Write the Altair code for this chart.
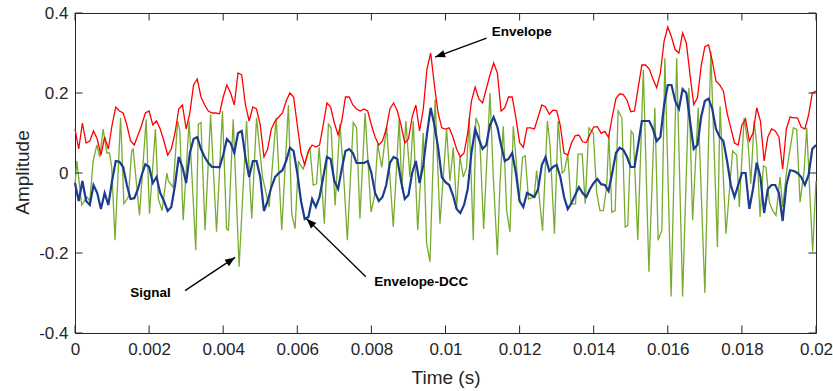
import altair as alt
import pandas as pd

# ---------------- data ----------------
DT = 0.0001  # sample spacing of envelope curves (s)

env_a = [0.11, 0.06, 0.125, 0.075, 0.08, 0.105, 0.085, 0.045, 0.09, 0.06, 0.12, 0.165, 0.155,
         0.15, 0.12, 0.08, 0.07, 0.095, 0.12, 0.15, 0.155, 0.12, 0.13, 0.11, 0.08, 0.045]
env_b = [0.06, 0.10, 0.16, 0.17, 0.11, 0.15, 0.22, 0.235, 0.19, 0.17, 0.155, 0.15, 0.15,
         0.148, 0.19, 0.22, 0.2, 0.17, 0.25, 0.245, 0.17, 0.13, 0.165, 0.16, 0.12, 0.04]
env_c = [0.06, 0.11, 0.13, 0.14, 0.15, 0.18, 0.2, 0.19, 0.12, 0.05, 0.02, 0.055, 0.07,
         0.065, 0.07, 0.12, 0.175, 0.165, 0.125, 0.095, 0.13, 0.19, 0.19, 0.17, 0.16]
env_d = [0.155, 0.16, 0.155, 0.12, 0.09, 0.07, 0.08, 0.11, 0.16, 0.175, 0.155, 0.12, 0.075,
         0.085, 0.14, 0.17, 0.105, 0.16, 0.26, 0.30, 0.22, 0.15, 0.113, 0.11, 0.113, 0.09]
env_e = [0.06, 0.04, 0.05, 0.1, 0.18, 0.215, 0.185, 0.175, 0.21, 0.245, 0.275, 0.25, 0.155,
         0.163, 0.19, 0.19, 0.138, 0.076, 0.064, 0.113, 0.113, 0.11, 0.14, 0.17, 0.165]
env_f = [0.147, 0.157, 0.156, 0.118, 0.05, 0.045, 0.075, 0.093, 0.095, 0.078, 0.076, 0.097, 0.115,
         0.116, 0.099, 0.104, 0.089, 0.14, 0.186, 0.198, 0.196, 0.182, 0.153, 0.155, 0.213, 0.27]
env_g = [0.27, 0.26, 0.235, 0.213, 0.25, 0.33, 0.365, 0.34, 0.308, 0.3, 0.35, 0.325, 0.246,
         0.171, 0.188, 0.267, 0.316, 0.32, 0.28, 0.23, 0.22, 0.205, 0.15, 0.113, 0.075, 0.07]
env_h = [0.12, 0.135, 0.08, 0.1, 0.163, 0.13, 0.03, 0.09, 0.11, 0.105, 0.09, 0.01, 0.11,
         0.14, 0.138, 0.138, 0.115, 0.11, 0.145, 0.2, 0.205]

dcc_a = [-0.025, -0.07, -0.02, -0.07, -0.08, -0.03, -0.05, -0.09, -0.05, -0.08, -0.02, 0.03, 0.028,
         0.015, -0.03, -0.065, -0.063, -0.04, -0.005, 0.022, 0.015, -0.025, -0.01, -0.05, -0.07, -0.095]
dcc_b = [-0.085, -0.03, 0.04, 0.015, -0.025, 0.05, 0.085, 0.09, 0.06, 0.04, 0.025, 0.015, 0.015,
         0.014, 0.045, 0.085, 0.075, 0.05, 0.1, 0.105, 0.04, -0.01, 0.03, 0.03, -0.01, -0.095]
dcc_c = [-0.07, -0.035, -0.01, 0.0, 0.007, 0.03, 0.063, 0.055, 0.0, -0.07, -0.115, -0.11, -0.065,
         -0.085, -0.06, -0.01, 0.04, 0.035, -0.02, -0.04, 0.01, 0.055, 0.06, 0.05, 0.025]
dcc_d = [0.025, 0.025, 0.03, 0.0, -0.05, -0.07, -0.06, -0.03, 0.025, 0.04, 0.035, -0.02, -0.065,
         -0.055, 0.0, 0.03, -0.025, 0.02, 0.097, 0.163, 0.12, 0.064, -0.01, -0.023, -0.03, -0.055]
dcc_e = [-0.09, -0.1, -0.08, -0.04, 0.05, 0.11, 0.085, 0.06, 0.07, 0.12, 0.14, 0.115, 0.07,
         0.03, 0.035, 0.05, 0.0, -0.07, -0.085, -0.05, -0.055, -0.06, -0.04, 0.02, 0.04]
dcc_f = [0.005, 0.015, 0.02, -0.01, -0.06, -0.09, -0.075, -0.055, -0.035, -0.05, -0.06, -0.04, -0.025,
         -0.015, -0.028, -0.03, -0.045, 0.0, 0.05, 0.063, 0.058, 0.04, 0.015, 0.015, 0.07, 0.13]
dcc_g = [0.13, 0.13, 0.11, 0.08, 0.09, 0.17, 0.22, 0.22, 0.18, 0.16, 0.21, 0.2, 0.13,
         0.06, 0.07, 0.14, 0.18, 0.186, 0.16, 0.11, 0.09, 0.08, 0.03, -0.03, -0.06, -0.03]
dcc_h = [0.0, 0.0, -0.09, -0.04, 0.026, -0.01, -0.1, -0.04, -0.03, -0.03, -0.05, -0.12, -0.03,
         0.007, 0.005, 0.0, -0.01, -0.03, -0.005, 0.06, 0.07]

# signal vertices (time in s, amplitude)
sig_t = [0.00000, 0.00005, 0.00018, 0.00032, 0.00040, 0.00049, 0.00059, 0.00067, 0.00076, 0.00086,
         0.00093, 0.00099, 0.00108, 0.00123, 0.00132, 0.00144, 0.00153, 0.00157, 0.00174, 0.00192,
         0.00201, 0.00217, 0.00225, 0.00235, 0.00248, 0.00252, 0.00265, 0.00277, 0.00283, 0.00292,
         0.00308, 0.00326, 0.00333, 0.00340, 0.00351, 0.00366, 0.00382, 0.00398, 0.00409, 0.00414,
         0.00427, 0.00443, 0.00463, 0.00477, 0.00490, 0.00506, 0.00524, 0.00543, 0.00558, 0.00576,
         0.00585, 0.00594, 0.00603, 0.00607, 0.00616, 0.00625, 0.00634, 0.00643, 0.00652, 0.00659,
         0.00673, 0.00684, 0.00691, 0.00702, 0.00715, 0.00724, 0.00735, 0.00751, 0.00760, 0.00769,
         0.00783, 0.00799, 0.00808, 0.00817, 0.00828, 0.00841, 0.00859, 0.00875, 0.00882, 0.00893,
         0.00904, 0.00913, 0.00925, 0.00940, 0.00949, 0.00958, 0.00972, 0.00985, 0.01003, 0.01012,
         0.01021, 0.01030, 0.01039, 0.01048, 0.01057, 0.01064, 0.01075, 0.01082, 0.01091, 0.01103,
         0.01120, 0.01129, 0.01140, 0.01147, 0.01156, 0.01165, 0.01174, 0.01183, 0.01190, 0.01199,
         0.01208, 0.01215, 0.01224, 0.01239, 0.01246, 0.01253, 0.01262, 0.01275, 0.01282, 0.01294,
         0.01304, 0.01315, 0.01321, 0.01330, 0.01339, 0.01351, 0.01358, 0.01369, 0.01377, 0.01387,
         0.01399, 0.01408, 0.01417, 0.01426, 0.01435, 0.01441, 0.01449, 0.01458, 0.01466, 0.01476,
         0.01485, 0.01492, 0.01501, 0.01507, 0.01519, 0.01534, 0.01549, 0.01565, 0.01574, 0.01584,
         0.01592, 0.01609, 0.01624, 0.01640, 0.01657, 0.01667, 0.01682, 0.01700, 0.01716, 0.01734,
         0.01741, 0.01757, 0.01775, 0.01786, 0.01793, 0.01806, 0.01817, 0.01824, 0.01833, 0.01840,
         0.01849, 0.01858, 0.01865, 0.01874, 0.01883, 0.01892, 0.01903, 0.01910, 0.01921, 0.01939,
         0.01948, 0.01957, 0.01968, 0.01975, 0.01982, 0.01991, 0.02000]
sig_v = [-0.03, 0.03, -0.08, -0.06, -0.07, 0.03, 0.07, 0.04, 0.11, 0.05,
         0.05, 0.015, -0.168, 0.138, -0.077, -0.06, 0.055, 0.06, -0.106, 0.134,
         -0.102, 0.11, -0.065, -0.094, 0.0, -0.02, -0.036, 0.13, 0.105, -0.118,
         0.13, -0.193, 0.122, 0.126, -0.143, 0.146, -0.147, 0.155, -0.139, -0.143,
         0.134, -0.234, 0.13, -0.114, 0.138, -0.01, -0.085, 0.138, -0.143, 0.17,
         -0.102, -0.139, 0.03, 0.022, 0.01, 0.04, 0.064, -0.03, -0.027, 0.064,
         -0.127, 0.122, 0.113, -0.081, 0.122, 0.01, -0.168, 0.126, 0.113, -0.114,
         0.15, -0.098, -0.06, 0.072, 0.014, 0.117, -0.135, 0.134, -0.04, 0.13,
         -0.01, 0.13, -0.143, 0.1, -0.176, -0.222, 0.184, -0.127, 0.109, -0.02,
         0.064, -0.09, 0.04, -0.01, 0.014, 0.138, -0.168, 0.138, 0.117, -0.14,
         0.2, -0.01, -0.205, -0.027, 0.117, -0.094, -0.147, 0.117, 0.039, -0.07,
         0.039, 0.043, -0.065, -0.06, 0.006, -0.06, -0.144, 0.13, 0.072, -0.152,
         0.13, 0.0, 0.006, 0.047, -0.077, -0.077, 0.047, 0.047, -0.077, 0.113,
         0.1, -0.05, -0.094, -0.094, -0.035, 0.097, -0.098, -0.094, 0.155, 0.138,
         -0.135, -0.131, 0.105, 0.097, -0.168, 0.258, -0.247, 0.163, -0.168, -0.143,
         0.287, -0.309, 0.287, -0.309, 0.213, -0.118, 0.163, -0.3, 0.304, -0.185,
         0.167, -0.152, 0.055, 0.045, -0.085, 0.138, 0.07, -0.027, 0.13, 0.07,
         -0.11, 0.018, 0.014, -0.073, -0.094, -0.106, -0.01, -0.085, 0.006, 0.113,
         0.109, -0.073, 0.006, 0.113, -0.027, -0.197, -0.02]

# axis ticks and labels
x_ticks = [0, 0.002, 0.004, 0.006, 0.008, 0.01, 0.012, 0.014, 0.016, 0.018, 0.02]
x_labels = ["0", "0.002", "0.004", "0.006", "0.008", "0.01", "0.012", "0.014", "0.016", "0.018", "0.02"]
y_ticks = [0.4, 0.2, 0, -0.2, -0.4]
y_labels = ["0.4", "0.2", "0", "-0.2", "-0.4"]

# annotations: label text, label anchor, arrow tail, arrow tip, arrow heading (deg)
ann_text = ["Envelope", "Signal", "Envelope-DCC"]
ann_tx = [0.01125, 0.00149, 0.00808]
ann_ty = [0.3535, -0.300, -0.2733]
arr_x0 = [0.01111, 0.00297, 0.00785]
arr_y0 = [0.337, -0.294, -0.2594]
arr_x1 = [0.00972, 0.00432, 0.00625]
arr_y1 = [0.2897, -0.211, -0.1143]
arr_ang = [250, 56, 315]

# ---------------- build tables ----------------
envelope = env_a + env_b + env_c + env_d + env_e + env_f + env_g + env_h
dcc = dcc_a + dcc_b + dcc_c + dcc_d + dcc_e + dcc_f + dcc_g + dcc_h
env_df = pd.DataFrame({"t": [round(i * DT, 6) for i in range(len(envelope))], "v": envelope})
dcc_df = pd.DataFrame({"t": [round(i * DT, 6) for i in range(len(dcc))], "v": dcc})
sig_df = pd.DataFrame({"t": sig_t, "v": sig_v})
ann_df = pd.DataFrame({"label": ann_text, "tx": ann_tx, "ty": ann_ty,
                       "x0": arr_x0, "y0": arr_y0, "x1": arr_x1, "y1": arr_y1, "ang": arr_ang})
xt_df = pd.DataFrame({"t": x_ticks})
yt_df = pd.DataFrame({"v": y_ticks})


def label_expr(vals, labels):
    expr = "''"
    for v, l in reversed(list(zip(vals, labels))):
        expr = f"datum.value == {v!r} ? '{l}' : {expr}"
    return expr


W, H = 741, 320
AX = "#262626"
FONT = "Liberation Sans"
TICK = 7.5

xs = alt.Scale(domain=[0, 0.02], nice=False, zero=False)
ys = alt.Scale(domain=[-0.4, 0.4], nice=False, zero=False)

x_axis = alt.Axis(values=x_ticks, labelExpr=label_expr(x_ticks, x_labels), title="Time (s)",
                  ticks=False, domain=False, grid=False, labelFlush=False, labelOverlap=False,
                  labelFont=FONT, labelFontSize=17, labelColor=AX, labelPadding=8,
                  titleFont=FONT, titleFontSize=19, titleFontWeight="normal", titleColor=AX,
                  titleX=W / 2, titleY=44, titleBaseline="middle", titleAlign="center")
y_axis = alt.Axis(values=y_ticks, labelExpr=label_expr(y_ticks, y_labels), title="Amplitude",
                  ticks=False, domain=False, grid=False, labelFlush=False, labelOverlap=False,
                  labelFont=FONT, labelFontSize=17, labelColor=AX, labelPadding=7,
                  titleFont=FONT, titleFontSize=19, titleFontWeight="normal", titleColor=AX,
                  titleX=-53, titleY=159, titleAngle=270, titleBaseline="middle", titleAlign="center")

X = lambda f: alt.X(f, type="quantitative", scale=xs, axis=x_axis)
Y = lambda f: alt.Y(f, type="quantitative", scale=ys, axis=y_axis)

signal = alt.Chart(sig_df).mark_line(color="#77ac30", strokeWidth=1.3).encode(x=X("t"), y=Y("v"))
env = alt.Chart(env_df).mark_line(color="#ff0000", strokeWidth=1.3).encode(x=X("t"), y=Y("v"))
dccl = alt.Chart(dcc_df).mark_line(color="#1c3c8f", strokeWidth=2.2).encode(x=X("t"), y=Y("v"))

tick_b = alt.Chart(xt_df).mark_rule(color=AX, strokeWidth=1).encode(
    x=X("t"), y=alt.value(H), y2=alt.value(H - TICK))
tick_t = alt.Chart(xt_df).mark_rule(color=AX, strokeWidth=1).encode(
    x=X("t"), y=alt.value(0), y2=alt.value(TICK))
tick_l = alt.Chart(yt_df).mark_rule(color=AX, strokeWidth=1).encode(
    y=Y("v"), x=alt.value(0), x2=alt.value(TICK))
tick_r = alt.Chart(yt_df).mark_rule(color=AX, strokeWidth=1).encode(
    y=Y("v"), x=alt.value(W), x2=alt.value(W - TICK))

arrows = alt.Chart(ann_df).mark_rule(color="black", strokeWidth=1.3).encode(
    x=X("x0"), y=Y("y0"), x2="x1", y2="y1")
HEAD = "M0,0 L-0.38,1 L0.38,1 Z"
heads = alt.Chart(ann_df).mark_point(shape=HEAD, filled=True, size=400, color="black", opacity=1).encode(
    x=X("x1"), y=Y("y1"), angle=alt.Angle("ang:Q", scale=None))
labels = alt.Chart(ann_df).mark_text(align="left", baseline="middle", font=FONT, fontSize=13.5,
                                     fontWeight="bold", color="black").encode(
    x=X("tx"), y=Y("ty"), text="label:N")

chart = alt.layer(signal, env, dccl, tick_b, tick_t, tick_l, tick_r, arrows, heads, labels).properties(
    width=W, height=H,
    padding={"left": 75, "top": 13, "right": 17, "bottom": 58},
    autosize=alt.AutoSizeParams(type="none"),
    background="white",
).configure_view(stroke=AX, strokeWidth=1)

chart.save("out.html", embed_options={"renderer": "svg", "actions": False})
